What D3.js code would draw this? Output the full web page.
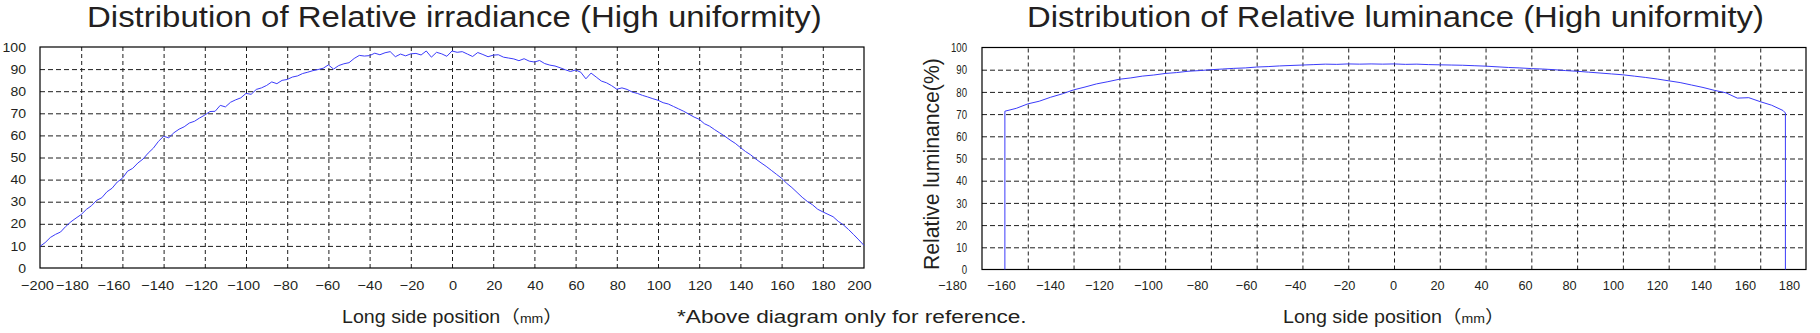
<!DOCTYPE html>
<html>
<head>
<meta charset="utf-8">
<script src="https://cdn.jsdelivr.net/npm/d3@7"></script>
<style>
  body { margin: 0; background: #fff; }
  svg { display: block; }
  text { font-family: "Liberation Sans", Arial, "Noto Sans CJK SC", sans-serif; fill: #231f20; }
</style>
</head>
<body>
<svg id="chart" width="1820" height="333"></svg>
<script>
// ---- data -------------------------------------------------------------
// Relative irradiance (%), sampled every 2.5 mm from -200 mm to 200 mm
const irrStart = -200;
const irrStep = 2.5;
const irradiance = [
  9.8, 11.5, 13.8, 15.2, 16.3, 18.8, 20.9, 22.6, 24.2, 26.5,
  28.2, 30.6, 31.8, 34.5, 36.1, 38.9, 40.6, 43.8, 45.1, 47.5,
  49.3, 52.0, 54.2, 57.3, 59.6, 58.9, 61.2, 62.8, 63.9, 65.6,
  66.4, 67.9, 69.2, 70.8, 70.9, 73.6, 72.9, 75.0, 76.1, 77.0,
  79.0, 78.6, 80.8, 81.5, 82.6, 84.2, 83.4, 84.9, 85.3, 86.4,
  86.9, 88.0, 88.6, 89.3, 89.8, 90.4, 91.9, 90.0, 91.6, 92.4,
  92.9, 94.8, 96.2, 95.9, 96.1, 97.2, 96.5, 97.4, 97.9, 95.6,
  96.8, 96.0, 96.9, 97.1, 96.4, 98.2, 95.4, 97.6, 96.9, 95.8,
  98.2, 97.6, 97.9, 96.8, 95.7, 97.5, 96.6, 95.6, 96.3, 96.5,
  95.4, 95.0, 94.6, 93.8, 94.7, 93.6, 93.2, 93.9, 92.5, 91.8,
  91.4, 90.6, 89.7, 88.9, 89.6, 88.6, 85.6, 88.2, 86.4, 84.6,
  83.8, 82.5, 80.9, 81.5, 80.8, 79.6, 79.0, 78.1, 77.4, 76.6,
  75.9, 74.8, 74.2, 73.1, 72.0, 70.9, 69.6, 68.3, 67.3, 65.3,
  64.2, 62.6, 61.1, 59.6, 57.9, 56.4, 54.5, 52.7, 51.2, 49.3,
  47.6, 46.0, 44.2, 42.4, 40.6, 38.3, 36.4, 34.2, 32.0, 30.1,
  28.6, 26.6, 25.4, 24.3, 23.2, 21.1, 19.5, 17.4, 15.1, 12.7,
  10.2
];

// Relative luminance (%) along the long side, mm positions and values
const lumPos = [
  -170, -170, -165, -160, -155, -150, -145, -140, -135, -130, -125,
  -120, -115, -110, -105, -100, -95, -90, -85, -80, -75,
  -70, -65, -60, -55, -50, -45, -40, -35, -30, -25,
  -20, -15, -10, -5, 0, 5, 10, 15, 20, 25,
  30, 35, 40, 45, 50, 55, 60, 65, 70, 75,
  80, 85, 90, 95, 100, 105, 110, 115, 120, 125,
  130, 135, 140, 145, 150, 155, 160, 165, 170, 171, 171
];
const luminance = [
  0, 71.3, 72.6, 74.6, 75.8, 77.6, 79.1, 80.9, 82.2, 83.6, 84.6,
  85.7, 86.3, 87.1, 87.6, 88.3, 88.7, 89.3, 89.6, 90.0, 90.3,
  90.6, 90.8, 91.2, 91.4, 91.7, 91.9, 92.1, 92.3, 92.5, 92.4,
  92.6, 92.5, 92.6, 92.5, 92.6, 92.4, 92.5, 92.3, 92.2, 92.1,
  92.0, 91.8, 91.6, 91.3, 91.0, 90.8, 90.5, 90.3, 90.0, 89.6,
  89.3, 88.9, 88.5, 88.1, 87.7, 87.1, 86.5, 85.8, 85.0, 84.2,
  83.1, 82.0, 80.7, 79.6, 77.2, 77.4, 75.6, 74.0, 71.6, 70.5, 0
];

const irrXTicks = [-200, -180, -160, -140, -120, -100, -80, -60, -40, -20, 0,
                   20, 40, 60, 80, 100, 120, 140, 160, 180, 200];
const lumXTicks = [-180, -160, -140, -120, -100, -80, -60, -40, -20, 0,
                   20, 40, 60, 80, 100, 120, 140, 160, 180];
const yTicks = [0, 10, 20, 30, 40, 50, 60, 70, 80, 90, 100];

const titles = [
  "Distribution of Relative irradiance (High uniformity)",
  "Distribution of Relative luminance (High uniformity)"
];
const xTitle = "Long side position";
const xUnit = "mm";
const yTitleLum = "Relative luminance(%)";
const note = "*Above diagram only for reference.";

// ---- drawing ----------------------------------------------------------
const svg = d3.select("#chart");
const LINE = "#3b3bfa";
const GRID = "#1e1e1e";

// stretch a text element horizontally so it spans `width` px
function fitText(sel, width, tf) {
  const w = sel.node().getComputedTextLength();
  sel.attr("transform", `${tf} scale(${width / w},1)`);
}

function drawPanel(cfg) {
  const x = d3.scaleLinear().domain(cfg.xDomain).range([cfg.left, cfg.right]);
  const y = d3.scaleLinear().domain([0, 100]).range([cfg.bottom, cfg.top]);
  const g = svg.append("g");
  const h = cfg.bottom - cfg.top, w = cfg.right - cfg.left;

  // vertical dashed grid
  g.append("g")
    .attr("transform", `translate(0,${cfg.bottom})`)
    .call(d3.axisBottom(x).tickValues(cfg.xTicks.slice(1, -1)).tickSize(-h).tickFormat(""))
    .call(a => a.select(".domain").remove())
    .selectAll("line")
    .attr("stroke", GRID).attr("stroke-dasharray", "4,3");

  // horizontal dashed grid
  g.append("g")
    .attr("transform", `translate(${cfg.left},0)`)
    .call(d3.axisLeft(y).tickValues(yTicks.slice(1, -1)).tickSize(-w).tickFormat(""))
    .call(a => a.select(".domain").remove())
    .selectAll("line")
    .attr("stroke", GRID).attr("stroke-dasharray", "5,3");

  // frame
  g.append("rect")
    .attr("x", cfg.left).attr("y", cfg.top)
    .attr("width", w).attr("height", h)
    .attr("fill", "none").attr("stroke", "#000").attr("stroke-width", 1.2);

  // profile
  g.append("path")
    .datum(cfg.points)
    .attr("fill", "none")
    .attr("stroke", LINE)
    .attr("stroke-width", 1)
    .attr("d", d3.line().x(d => x(d[0])).y(d => y(d[1])));

  // y tick labels
  const ya = g.append("g")
    .attr("transform", `translate(${cfg.left},0)`)
    .call(d3.axisLeft(y).tickValues(yTicks).tickSize(0).tickPadding(cfg.yPad));
  ya.select(".domain").remove();
  ya.selectAll("text")
    .attr("font-size", cfg.yFont)
    .attr("font-family", null)
    .each(function () {
      d3.select(this)
        .attr("textLength", this.getComputedTextLength() * cfg.yStretch)
        .attr("lengthAdjust", "spacingAndGlyphs");
    });

  // x tick labels
  const lx = d3.scaleLinear().domain(cfg.labelDomain).range(cfg.labelRange);
  const xa = g.append("g")
    .attr("transform", `translate(0,${cfg.labelY})`)
    .call(d3.axisBottom(lx).tickValues(cfg.xTicks).tickSize(0).tickPadding(0));
  xa.select(".domain").remove();
  xa.selectAll("text")
    .attr("font-size", 13)
    .attr("font-family", null)
    .each(function () {
      d3.select(this)
        .attr("textLength", this.getComputedTextLength() * cfg.xStretch)
        .attr("lengthAdjust", "spacingAndGlyphs");
    });
  return { x, y };
}

// left: irradiance
drawPanel({
  xDomain: [-200, 200], left: 40, right: 864, top: 47, bottom: 268,
  xTicks: irrXTicks,
  points: irradiance.map((v, i) => [irrStart + i * irrStep, v]),
  yPad: 14, yFont: 13, yStretch: 1.08,
  labelDomain: [-200, -180, -160, -120, -20, 180, 200],
  labelRange: [37, 72, 113.5, 201, 411.5, 823, 859],
  labelY: 280.5, xStretch: 1.12
});

// right: luminance
drawPanel({
  xDomain: [-180, 180], left: 982, right: 1806, top: 47.5, bottom: 269.5,
  xTicks: lumXTicks,
  points: lumPos.map((p, i) => [p, luminance[i]]),
  yPad: 15, yFont: 13, yStretch: 0.74,
  labelDomain: [-180, 0, 180],
  labelRange: [952, 1393, 1789],
  labelY: 280.5, xStretch: 0.98
});

// titles
const t1 = svg.append("text").attr("font-size", 30).text(titles[0]);
fitText(t1, 735, "translate(87,27)");
const t2 = svg.append("text").attr("font-size", 30).text(titles[1]);
fitText(t2, 737, "translate(1027,27)");

// x-axis titles
function axisTitle(x, width) {
  const t = svg.append("text").attr("font-size", 17.5);
  t.append("tspan").text(xTitle + "（");
  t.append("tspan").attr("font-size", 12.5).text(xUnit);
  t.append("tspan").text("）");
  fitText(t, width, `translate(${x},323)`);
}
axisTitle(342, 221);
axisTitle(1283, 222);

// footnote
const n = svg.append("text").attr("font-size", 17.5).text(note);
fitText(n, 350, "translate(677,323)");

// rotated y title of the luminance panel
const yt = svg.append("text").attr("font-size", 22).text(yTitleLum);
fitText(yt, 212, "translate(939,270) rotate(-90)");
</script>
</body>
</html>
